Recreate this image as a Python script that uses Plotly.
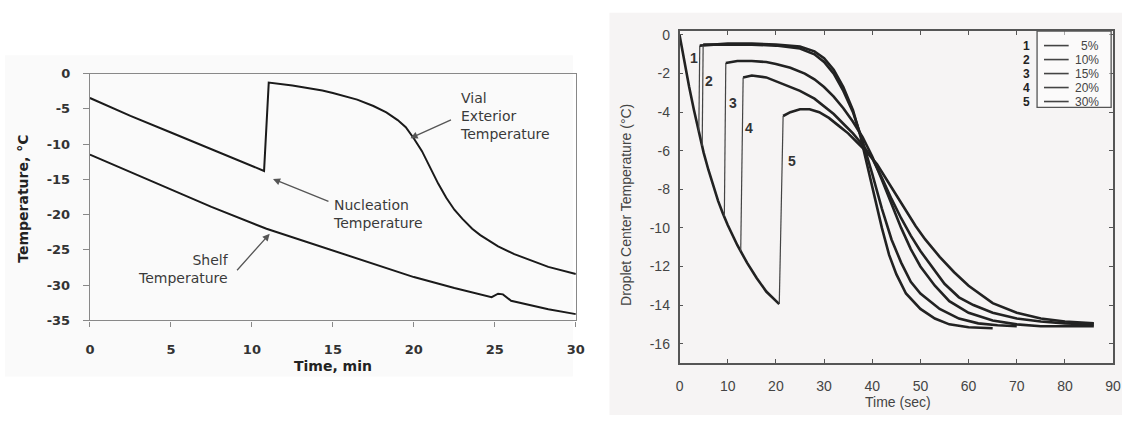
import plotly.graph_objects as go

W, H = 1131, 423

# ---------------- Left panel data (Time, min / Temperature, °C) ----------------
vial_t = [0, 2.5, 5, 7.5, 10.75, 11.04, 12.5, 14.35, 15, 16.5, 17.5, 18.3, 19.0, 19.5, 20.0, 20.5, 21.0,
          21.5, 22.0, 22.5, 23.0, 23.6, 24.1, 25.2, 26.2, 27.3, 28.3, 30]
vial_T = [-3.46, -6.0, -8.35, -10.75, -13.8, -1.28, -1.7, -2.4, -2.75, -3.7, -4.6, -5.5, -6.6, -7.6, -9.2,
          -11.0, -13.3, -15.6, -17.6, -19.3, -20.6, -22.0, -22.9, -24.5, -25.6, -26.6, -27.4, -28.4]

shelf_t = [0, 2.5, 5, 7.5, 10.9, 13, 15, 17.5, 20, 22.5, 24.8, 25.2, 25.5, 26, 27.3, 28.3, 30]
shelf_T = [-11.5, -14.0, -16.5, -18.9, -22.0, -23.6, -25.1, -27.0, -28.85, -30.4, -31.7, -31.2, -31.3,
           -32.2, -32.9, -33.4, -34.1]

left_xticks = [0, 5, 10, 15, 20, 25, 30]
left_yticks = [0, -5, -10, -15, -20, -25, -30, -35]

# ---------------- Right panel data (Time, sec / Droplet center temperature, °C) ----------------
cool_t = [0, 1, 2, 3, 4, 5, 6, 7, 8, 9, 10, 12, 14, 16, 18, 20.7]
cool_T = [0, -1.4, -2.7, -3.9, -5.0, -6.1, -7.0, -7.8, -8.6, -9.25, -9.85, -10.9, -11.8, -12.6, -13.3, -13.95]

series_ids = ["1", "2", "3", "4", "5"]
series_labels = ["5%", "10%", "15%", "20%", "30%"]

nuc_t = [4.0, 4.7, 9.3, 12.7, 20.7]
nuc_T = [-5.0, -5.75, -9.4, -11.2, -13.95]

post_t = [
    [4.2, 10, 15, 20, 25, 28, 30, 32, 34, 36, 37.5, 39, 40.5, 42, 43.5, 45, 47, 50, 53, 56, 60, 65],
    [4.9, 10, 15, 20, 25, 28, 30, 32, 34, 36, 38, 40, 42, 44, 46, 48, 50, 54, 58, 62, 66, 70],
    [9.6, 12, 15, 18, 20, 23, 26, 28, 30, 32, 34, 36, 38, 40, 42, 44, 46, 48, 50, 53, 56, 60, 65, 70, 75, 80, 86],
    [13.2, 15, 18, 20, 22, 25, 28, 30, 32, 34, 36, 38, 40, 42, 44, 46, 48, 50, 52, 55, 58, 61, 65, 70, 75, 80, 86],
    [21.5, 23, 25, 27, 29, 31, 33, 35, 37, 39, 41, 43, 45, 47, 49, 51, 54, 57, 60, 65, 70, 75, 80, 86],
]
post_T = [
    [-0.55, -0.45, -0.45, -0.5, -0.6, -0.85, -1.2, -1.8, -2.7, -3.9, -5.2, -6.8, -8.4, -10.0, -11.4, -12.4,
     -13.4, -14.2, -14.7, -15.0, -15.15, -15.2],
    [-0.5, -0.5, -0.5, -0.55, -0.7, -1.0, -1.4, -2.0, -2.9, -4.0, -5.5, -7.2, -9.0, -10.6, -11.8, -12.8,
     -13.4, -14.2, -14.7, -14.95, -15.05, -15.1],
    [-1.45, -1.35, -1.35, -1.4, -1.5, -1.7, -2.0, -2.3, -2.7, -3.2, -3.8, -4.5, -5.3, -6.3, -7.5, -8.8,
     -10.0, -11.1, -12.0, -13.0, -13.8, -14.4, -14.8, -15.0, -15.1, -15.1, -15.1],
    [-2.2, -2.1, -2.2, -2.4, -2.6, -2.9, -3.3, -3.7, -4.1, -4.6, -5.1, -5.7, -6.4, -7.4, -8.5, -9.5,
     -10.4, -11.2, -11.9, -12.9, -13.6, -14.0, -14.4, -14.7, -14.85, -14.95, -15.0],
    [-4.2, -4.0, -3.85, -3.85, -4.0, -4.3, -4.7, -5.1, -5.6, -6.1, -6.7, -7.5, -8.3, -9.1, -9.9, -10.6,
     -11.5, -12.3, -13.0, -13.9, -14.4, -14.7, -14.85, -14.95],
]

label_t = [3.1, 6.1, 11.1, 14.5, 23.4]
label_T = [-1.2, -2.4, -3.55, -4.8, -6.55]

right_xticks = [0, 10, 20, 30, 40, 50, 60, 70, 80, 90]
right_yticks = [0, -2, -4, -6, -8, -10, -12, -14, -16]

# ---------------- geometry helpers (pixel -> paper) ----------------
def px(x):
    return x / W

def py(y):
    return 1 - y / H

L_X0, L_X1, L_Y0, L_Y1 = 86, 578, 69, 325      # left plot area (pixels)
R_X0, R_X1, R_Y0, R_Y1 = 683, 1122, 25, 369     # right plot area (pixels)

fig = go.Figure()

LINE = "#1a1a1a"
fig.add_trace(go.Scatter(x=vial_t, y=vial_T, mode="lines", line=dict(color=LINE, width=2),
                         xaxis="x", yaxis="y", showlegend=False, hoverinfo="skip"))
fig.add_trace(go.Scatter(x=shelf_t, y=shelf_T, mode="lines", line=dict(color=LINE, width=2),
                         xaxis="x", yaxis="y", showlegend=False, hoverinfo="skip"))

fig.add_trace(go.Scatter(x=cool_t, y=cool_T, mode="lines", line=dict(color="#222", width=2.6),
                         xaxis="x2", yaxis="y2", showlegend=False, hoverinfo="skip"))
for i in range(5):
    fig.add_trace(go.Scatter(x=[nuc_t[i], post_t[i][0]], y=[nuc_T[i], post_T[i][0]], mode="lines",
                             line=dict(color="#444", width=1.2), xaxis="x2", yaxis="y2",
                             showlegend=False, hoverinfo="skip"))
    fig.add_trace(go.Scatter(x=post_t[i], y=post_T[i], mode="lines", line=dict(color="#222", width=2.6),
                             xaxis="x2", yaxis="y2", showlegend=False, hoverinfo="skip"))

annotations = []
for i in range(5):
    annotations.append(dict(x=label_t[i], y=label_T[i], xref="x2", yref="y2", text="<b>" + series_ids[i] + "</b>",
                            showarrow=False, font=dict(family="Liberation Sans", size=14, color="#333")))

ARROW = "#555"
annotations += [
    dict(x=19.79, y=-9.16, xref="x", yref="y", ax=42, ay=-19, text="", showarrow=True,
         arrowhead=2, arrowsize=1.1, arrowwidth=1.3, arrowcolor=ARROW),
    dict(x=11.3, y=-14.95, xref="x", yref="y", ax=57, ay=23, text="", showarrow=True,
         arrowhead=2, arrowsize=1.1, arrowwidth=1.3, arrowcolor=ARROW),
    dict(x=11.1, y=-22.7, xref="x", yref="y", ax=-34, ay=38, text="", showarrow=True,
         arrowhead=2, arrowsize=1.1, arrowwidth=1.3, arrowcolor=ARROW),
]
TXT = dict(family="DejaVu Sans", size=14, color="#3a3a3a")
annotations += [
    dict(x=px(459), y=py(113), xref="paper", yref="paper", text="Vial<br>Exterior<br>Temperature",
         align="left", xanchor="left", yanchor="middle", showarrow=False, font=TXT),
    dict(x=px(330), y=py(214.5), xref="paper", yref="paper", text="Nucleation<br>Temperature",
         align="left", xanchor="left", yanchor="middle", showarrow=False, font=TXT),
    dict(x=px(229), y=py(271.7), xref="paper", yref="paper", text="Shelf<br>Temperature",
         align="right", xanchor="right", yanchor="middle", showarrow=False, font=TXT),
]
annotations += [
    dict(x=px(332), y=py(372), xref="paper", yref="paper", text="<b>Time, min</b>", showarrow=False,
         font=dict(family="DejaVu Sans", size=14, color="#222"), xanchor="center", yanchor="middle"),
    dict(x=px(18), y=py(199), xref="paper", yref="paper", text="<b>Temperature, °C</b>", showarrow=False,
         textangle=-90, font=dict(family="DejaVu Sans", size=14, color="#222"), xanchor="center", yanchor="middle"),
    dict(x=px(904), y=py(410), xref="paper", yref="paper", text="Time (sec)", showarrow=False,
         font=dict(family="Liberation Sans", size=14, color="#444"), xanchor="center", yanchor="middle"),
    dict(x=px(629), y=py(205), xref="paper", yref="paper", text="Droplet Center Temperature (°C)",
         showarrow=False, textangle=-90, font=dict(family="Liberation Sans", size=14, color="#444"),
         xanchor="center", yanchor="middle"),
]

# custom legend in right panel
LEG_X0, LEG_X1, LEG_Y0, LEG_Y1 = 1045, 1120, 25, 104
row_y = [40, 54.5, 69, 83.5, 98]
shapes = [
    dict(type="rect", xref="paper", yref="paper", x0=px(0), x1=px(575), y0=py(383), y1=py(50),
         fillcolor="#fafafa", line=dict(width=0), layer="below"),
    dict(type="rect", xref="paper", yref="paper", x0=px(612), x1=1, y0=0, y1=py(6),
         fillcolor="#f6f4f4", line=dict(width=0), layer="below"),
    dict(type="rect", xref="paper", yref="paper", x0=px(LEG_X0), x1=px(LEG_X1), y0=py(LEG_Y1), y1=py(LEG_Y0),
         fillcolor="rgba(255,255,255,0.5)", line=dict(color="#555", width=1.3)),
]
LEGF = dict(family="Liberation Sans", size=12, color="#444")
for i in range(5):
    shapes.append(dict(type="line", xref="paper", yref="paper", x0=px(1052), x1=px(1077),
                       y0=py(row_y[i]), y1=py(row_y[i]), line=dict(color="#444", width=1.6)))
    annotations.append(dict(x=px(1110), y=py(row_y[i]), xref="paper", yref="paper", text=series_labels[i],
                            showarrow=False, xanchor="right", yanchor="middle", font=LEGF))
    annotations.append(dict(x=px(1034), y=py(row_y[i]), xref="paper", yref="paper",
                            text="<b>" + series_ids[i] + "</b>", showarrow=False, xanchor="center",
                            yanchor="middle", font=dict(family="Liberation Sans", size=12, color="#222")))

LT = dict(family="DejaVu Sans", size=13, color="#333")
RT = dict(family="Liberation Sans", size=14, color="#444")

fig.update_layout(
    width=W, height=H, margin=dict(l=0, r=0, t=0, b=0),
    paper_bgcolor="white", plot_bgcolor="rgba(0,0,0,0)",
    showlegend=False,
    xaxis=dict(domain=[px(L_X0), px(L_X1)], range=[0, 30], tickmode="array", tickvals=left_xticks,
               ticktext=["<b>%d</b>" % v for v in left_xticks], ticks="outside", ticklen=5,
               tickcolor="#888", showline=True, linecolor="#888", linewidth=1.3, mirror=True,
               showgrid=False, zeroline=False, tickfont=LT, ticklabelstandoff=12, anchor="y"),
    yaxis=dict(domain=[py(L_Y1), py(L_Y0)], range=[-35, 0], tickmode="array", tickvals=left_yticks,
               ticktext=["<b>%d</b>" % v for v in left_yticks], ticks="outside", ticklen=6,
               tickcolor="#888", showline=True, linecolor="#888", linewidth=1.3, mirror=True,
               showgrid=False, zeroline=False, tickfont=LT, ticklabelstandoff=10, anchor="x"),
    xaxis2=dict(domain=[px(R_X0), px(R_X1)], range=[0, 90], tickmode="array", tickvals=right_xticks,
                ticktext=[str(v) for v in right_xticks], ticks="inside", ticklen=4,
                tickcolor="#555", showline=True, linecolor="#555", linewidth=1.6, mirror="allticks",
                showgrid=False, zeroline=False, tickfont=RT, ticklabelstandoff=9, anchor="y2"),
    yaxis2=dict(domain=[py(R_Y1), py(R_Y0)], range=[-17, 0.2], tickmode="array", tickvals=right_yticks,
                ticktext=[str(v) for v in right_yticks], ticks="inside", ticklen=4,
                tickcolor="#555", showline=True, linecolor="#555", linewidth=1.6, mirror="allticks",
                showgrid=False, zeroline=False, tickfont=RT, ticklabelstandoff=5, anchor="x2"),
    annotations=annotations,
    shapes=shapes,
)

fig.write_html("out.html")
